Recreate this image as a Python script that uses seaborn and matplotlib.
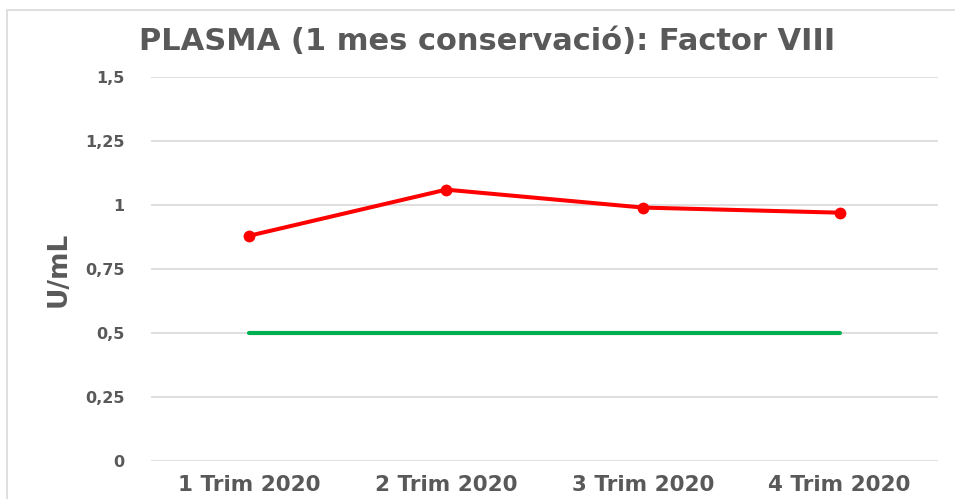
import matplotlib
matplotlib.use("Agg")
import matplotlib.pyplot as plt
import seaborn as sns
import pandas as pd
from matplotlib.patches import Rectangle

categories = ["1 Trim 2020", "2 Trim 2020", "3 Trim 2020", "4 Trim 2020"]
factor_viii = [0.88, 1.06, 0.99, 0.97]
limit = [0.5, 0.5, 0.5, 0.5]
yticks = [0, 0.25, 0.5, 0.75, 1, 1.25, 1.5]
ytick_labels = ["0", "0,25", "0,5", "0,75", "1", "1,25", "1,5"]

sns.set_theme(style="white")
plt.rcParams['font.family'] = ['DejaVu Sans']

fig = plt.figure(figsize=(9.55, 4.99), dpi=100)
ax = fig.add_axes([151/955, 38/499, 787/955, 384/499])

df = pd.DataFrame({"cat": list(range(4)), "f8": factor_viii, "lim": limit})
sns.lineplot(data=df, x="cat", y="lim", ax=ax, color="#00b050", linewidth=3.0,
             solid_capstyle="round", zorder=3)
sns.lineplot(data=df, x="cat", y="f8", ax=ax, color="#ff0000", linewidth=2.9,
             marker="o", markersize=8.5, markeredgewidth=0, zorder=4)

ax.set_xlim(-0.5, 3.5)
ax.set_ylim(0, 1.5)
ax.set_yticks(yticks)
ax.set_yticklabels(ytick_labels)
ax.set_xticks(range(4))
ax.set_xticklabels(categories)
ax.grid(axis="y", color="#d9d9d9", linewidth=1.2)
ax.set_axisbelow(True)
for s in ax.spines.values():
    s.set_visible(False)
ax.tick_params(axis="y", length=0, pad=19, labelsize=11.5, labelcolor="#595959")
ax.tick_params(axis="x", length=0, pad=10, labelsize=15.5, labelcolor="#595959")
for lbl in ax.get_yticklabels() + ax.get_xticklabels():
    lbl.set_fontweight("bold")
ax.set_xlabel("")
ax.set_ylabel("U/mL", fontsize=19, fontweight="bold", color="#595959", labelpad=10)

fig.text(0.5105, 0.916, "PLASMA (1 mes conservació): Factor VIII", ha="center", va="center",
         fontsize=22, fontweight="bold", color="#595959")

fig.patches.append(Rectangle((7/955, -0.1), 1.2, (499-10)/499 + 0.1, transform=fig.transFigure,
                             fill=False, edgecolor="#d9d9d9", linewidth=1.2))

fig.savefig("out.png", dpi=100)
